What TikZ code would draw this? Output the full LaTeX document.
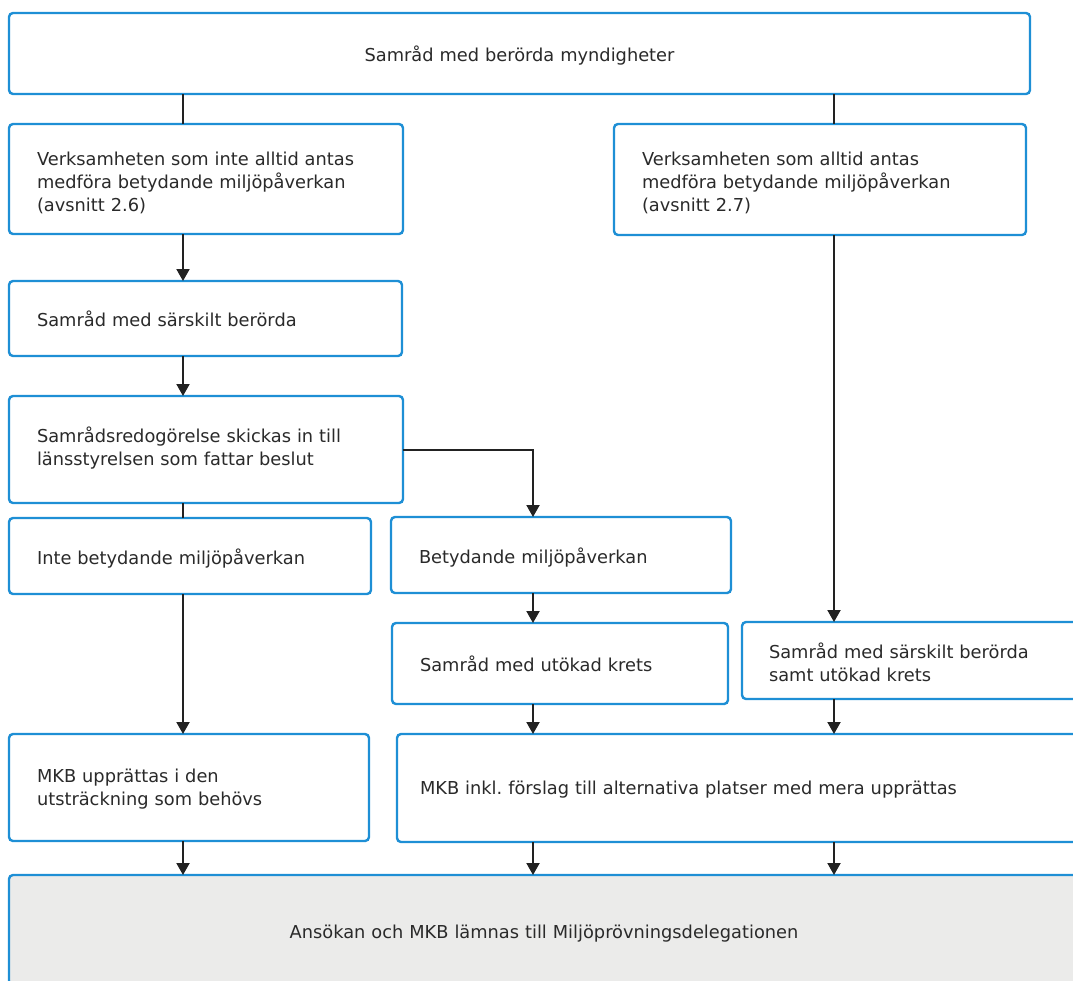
\documentclass[tikz,border=0pt]{standalone}
\usepackage{fontspec}
\setmainfont{DejaVu Sans}
\usetikzlibrary{arrows.meta}
\definecolor{boxblue}{HTML}{1E8FD5}
\definecolor{txtgray}{HTML}{2A2A2A}
\definecolor{lightfill}{HTML}{EBEBEA}
\definecolor{linegray}{HTML}{222222}
\frenchspacing
\tikzset{
  box/.style={draw=boxblue, line width=2.4pt, rounded corners=4pt, fill=white,
    anchor=north west, inner xsep=28pt, inner ysep=0pt, align=left, text=txtgray,
    font=\fontsize{17.8}{23}\selectfont, outer sep=0pt,
    execute at begin node={\leavevmode\strut}, text depth=-2.2pt},
  twolines/.style={text depth=20.8pt},
  threelines/.style={text depth=43.8pt},
  link/.style={draw=linegray, line width=2pt},
  arr/.style={link, -{Triangle[width=13pt,length=12pt]}}
}
\begin{document}
\begin{tikzpicture}[x=1pt,y=-1pt]
\useasboundingbox (0,0) rectangle (1073,980);
\clip (0,0) rectangle (1073,980);
\coordinate (colL) at (183,0);
\coordinate (colM) at (533,0);
\coordinate (colR) at (834,0);
\node[box, align=center, text width=965pt, minimum height=81pt] (top) at (9,13) {Samråd med berörda myndigheter};
\node[box, threelines, text width=338pt, minimum height=110pt] (A) at (9,124) {Verksamheten som inte alltid antas\\medföra betydande miljöpåverkan\\(avsnitt 2.6)};
\node[box, threelines, text width=356pt, minimum height=111pt] (B) at (614,124) {Verksamheten som alltid antas\\medföra betydande miljöpåverkan\\(avsnitt 2.7)};
\node[box, text width=337pt, minimum height=75pt] (C) at (9,281) {Samråd med särskilt berörda};
\node[box, twolines, text depth=30.8pt, text width=338pt, minimum height=107pt] (D) at (9,396) {Samrådsredogörelse skickas in till\\länsstyrelsen som fattar beslut};
\node[box, text width=306pt, minimum height=76pt] (E) at (9,518) {Inte betydande miljöpåverkan};
\node[box, text width=284pt, minimum height=76pt] (F) at (391,517) {Betydande miljöpåverkan};
\node[box, text width=280pt, minimum height=81pt] (G) at (392,623) {Samråd med utökad krets};
\node[box, twolines, inner xsep=27pt, text width=296pt, minimum height=77pt] (H) at (742,622) {Samråd med särskilt berörda\\samt utökad krets};
\node[box, twolines, text depth=25.8pt, text width=304pt, minimum height=107pt] (I) at (9,734) {MKB upprättas i den\\utsträckning som behövs};
\node[box, inner xsep=23pt, text width=654pt, minimum height=108pt, text depth=4pt] (J) at (397,734) {MKB inkl. förslag till alternativa platser med mera upprättas};
\node[box, fill=lightfill, align=center, text width=1014pt, minimum height=110pt] (K) at (9,875) {Ansökan och MKB lämnas till Miljöprövningsdelegationen};
\draw[link] (top.south -| colL) -- (A.north -| colL);
\draw[link] (top.south -| colR) -- (B.north -| colR);
\draw[arr] (A.south -| colL) -- (C.north -| colL);
\draw[arr] (C.south -| colL) -- (D.north -| colL);
\draw[link] (D.south -| colL) -- (E.north -| colL);
\draw[arr] (D.east) -| (F.north -| colM);
\draw[arr] (E.south -| colL) -- (I.north -| colL);
\draw[arr] (F.south -| colM) -- (G.north -| colM);
\draw[arr] (B.south -| colR) -- (H.north -| colR);
\draw[arr] (G.south -| colM) -- (J.north -| colM);
\draw[arr] (H.south -| colR) -- (J.north -| colR);
\draw[arr] (I.south -| colL) -- (K.north -| colL);
\draw[arr] (J.south -| colM) -- (K.north -| colM);
\draw[arr] (J.south -| colR) -- (K.north -| colR);
\end{tikzpicture}
\end{document}
